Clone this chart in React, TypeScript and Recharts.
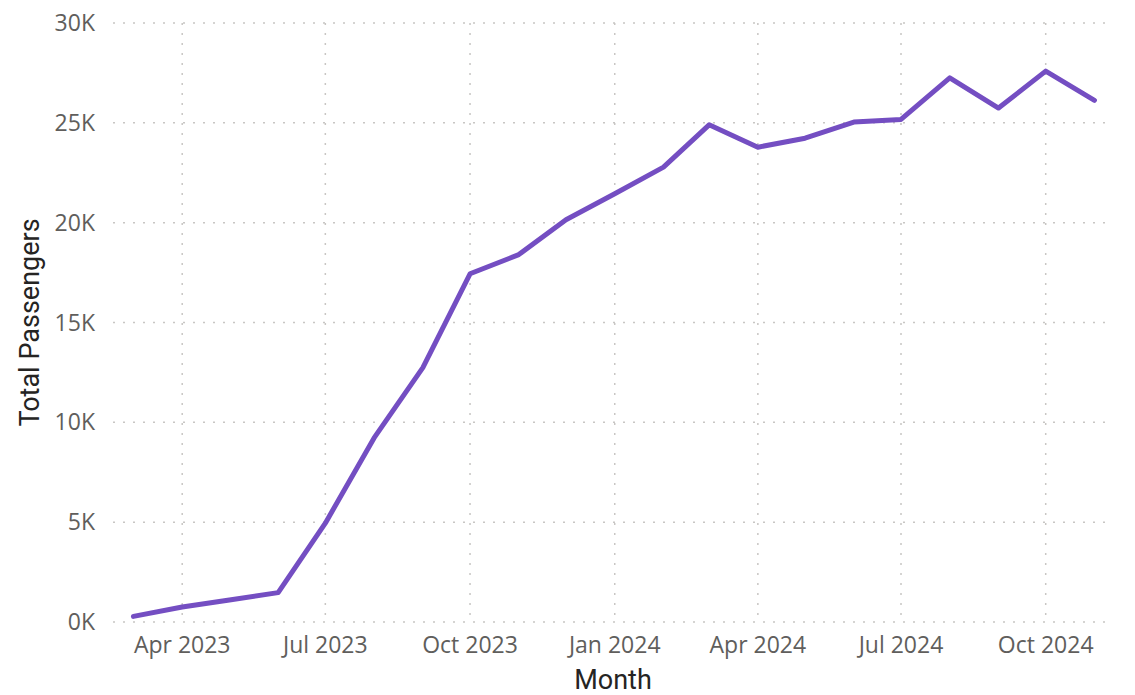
import { LineChart, Line, XAxis, YAxis, CartesianGrid } from 'recharts';

// monthly totals, Mar 2023 .. Nov 2024
const months = [
  '2023-03', '2023-04', '2023-05', '2023-06', '2023-07', '2023-08', '2023-09',
  '2023-10', '2023-11', '2023-12', '2024-01', '2024-02', '2024-03', '2024-04',
  '2024-05', '2024-06', '2024-07', '2024-08', '2024-09', '2024-10', '2024-11',
];
const passengers = [
  280, 750, 1100, 1470, 4950, 9220, 12740,
  17440, 18400, 20150, 21450, 22780, 24900, 23780,
  24230, 25040, 25170, 27250, 25740, 27590, 26130,
];
const xTickMonths = ['2023-04', '2023-07', '2023-10', '2024-01', '2024-04', '2024-07', '2024-10'];
const yTicks = [0, 5000, 10000, 15000, 20000, 25000, 30000];
const monthNames = ['Jan', 'Feb', 'Mar', 'Apr', 'May', 'Jun', 'Jul', 'Aug', 'Sep', 'Oct', 'Nov', 'Dec'];

const toTime = (m: string) => {
  const [y, mo] = m.split('-').map(Number);
  return Date.UTC(y, mo - 1, 1);
};

const DAY = 86400000;
const data = months.map((m, i) => ({ t: toTime(m), value: passengers[i] }));
const xTicks = xTickMonths.map(toTime);
const xDomain = [data[0].t - 13 * DAY, data[data.length - 1].t + 6.7 * DAY];

const fmtMonth = (t: number) => {
  const d = new Date(t);
  return `${monthNames[d.getUTCMonth()]} ${d.getUTCFullYear()}`;
};

const tickFont = { fontFamily: 'Open Sans', fontSize: 23, fill: '#605E5C' };
const titleFont = { fontFamily: 'Roboto', fontSize: 27, fill: '#252423' };

function YTitle({ viewBox }: any) {
  const cy = viewBox.y + viewBox.height / 2;
  return (
    <text x={39} y={cy} transform={`rotate(-90, 39, ${cy})`} textAnchor="middle" style={titleFont}>
      Total Passengers
    </text>
  );
}

function XTitle({ viewBox }: any) {
  const cx = viewBox.x + viewBox.width / 2;
  return (
    <text x={cx + 4} y={689} textAnchor="middle" style={titleFont}>
      Month
    </text>
  );
}

export default function App() {
  return (
    <div style={{ position: 'absolute', left: 0, top: 0, background: '#fff' }}>
      <LineChart width={1135} height={695} data={data} margin={{ top: 23, right: 30, bottom: 0, left: 0 }}>
        <CartesianGrid stroke="#C8C6C4" strokeDasharray="2 8" strokeWidth={1.5} syncWithTicks />
        <XAxis
          dataKey="t"
          type="number"
          scale="time"
          domain={xDomain}
          ticks={xTicks}
          tickFormatter={fmtMonth}
          axisLine={false}
          tickLine={false}
          tickSize={0}
          tickMargin={15}
          tick={tickFont}
          interval={0}
          height={73}
          label={{ content: XTitle }}
        />
        <YAxis
          domain={[0, 30000]}
          ticks={yTicks}
          tickFormatter={(v: number) => `${v / 1000}K`}
          axisLine={false}
          tickLine={false}
          tickSize={0}
          tickMargin={18}
          tick={tickFont}
          width={113}
          label={{ content: YTitle }}
        />
        <Line
          dataKey="value"
          stroke="#744EC2"
          strokeWidth={5}
          strokeLinejoin="round"
          strokeLinecap="round"
          dot={false}
          isAnimationActive={false}
        />
      </LineChart>
    </div>
  );
}
